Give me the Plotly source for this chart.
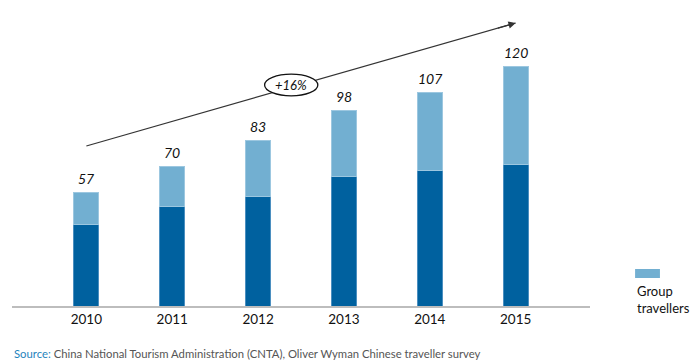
import plotly.graph_objects as go

years = ["2010", "2011", "2012", "2013", "2014", "2015"]
individual = [41, 50, 55, 65, 68, 71]
group = [16, 20, 28, 33, 39, 49]
totals = [57, 70, 83, 98, 107, 120]
cagr_label = "+16%"
legend_label = "Group<br>travellers"
source_label = "<span style='color:#1f84bd'>Source:</span> China National Tourism Administration (CNTA), Oliver Wyman Chinese traveller survey"

dark = "#00619f"
light = "#72afd1"
font = "Lato, 'Open Sans', sans-serif"

fig = go.Figure()
fig.add_trace(go.Bar(x=years, y=individual, marker=dict(color=dark, line=dict(color="#4b8fc0", width=1)),
                     width=0.29, showlegend=False, hoverinfo="skip"))
fig.add_trace(go.Bar(x=years, y=group, marker=dict(color=light, line=dict(color="#9cc7e0", width=1)),
                     width=0.29, showlegend=False, hoverinfo="skip"))

annotations = []
for i, t in enumerate(totals):
    annotations.append(dict(x=i, y=t, xref="x", yref="y", text=f"<i>{t}</i>", showarrow=False,
                            yanchor="bottom", yshift=3, font=dict(size=14, color="#111", family=font)))

# arrow head at the end of the growth line
annotations.append(dict(x=5, y=141.5, xref="x", yref="y", ax=-19.2, ay=5.5,
                        showarrow=True, arrowhead=2, arrowsize=1.2, arrowwidth=1.2, arrowcolor="#333", text=""))
annotations.append(dict(x=2.386, y=110.5, xref="x", yref="y", text=f"<i>{cagr_label}</i>", showarrow=False,
                        font=dict(size=13, color="#111", family=font)))
# legend text
annotations.append(dict(x=1.078, y=0.084, xref="paper", yref="paper", text=legend_label, showarrow=False,
                        xanchor="left", yanchor="top", align="left", font=dict(size=13, color="#111", family=font)))
# source
annotations.append(dict(x=0, y=-0.159, xref="paper", yref="paper", text=source_label, showarrow=False,
                        xanchor="left", yanchor="middle", font=dict(size=11.3, color="#555", family=font)))

shapes = [
    dict(type="line", xref="x", yref="y", x0=0, y0=80, x1=5, y1=141.5,
         line=dict(color="#333", width=1.2), layer="above"),
    dict(type="circle", xref="x", yref="y", x0=2.386 - 0.31, x1=2.386 + 0.31, y0=110.5 - 5.4, y1=110.5 + 5.4,
         fillcolor="white", line=dict(color="#111", width=1.3), layer="above"),
    dict(type="rect", xref="paper", yref="paper", x0=1.078, x1=1.121, y0=0.0946, y1=0.125,
         fillcolor=light, line=dict(width=0)),
]

fig.update_layout(
    barmode="stack",
    width=700, height=364,
    margin=dict(l=12, r=110, t=10, b=58),
    paper_bgcolor="white", plot_bgcolor="white",
    font=dict(family=font, color="#111"),
    annotations=annotations,
    shapes=shapes,
    xaxis=dict(type="category", range=[-0.866, 5.866], showline=True, linecolor="#bdbdbd", linewidth=2,
               ticks="", tickfont=dict(size=13.5, color="#111", family=font), showgrid=False, zeroline=False),
    yaxis=dict(range=[0, 148], visible=False, showgrid=False, zeroline=False),
)

fig.write_html("out.html", config={"displayModeBar": False},
               post_script="document.body.style.margin='0';document.body.style.overflow='hidden';")
